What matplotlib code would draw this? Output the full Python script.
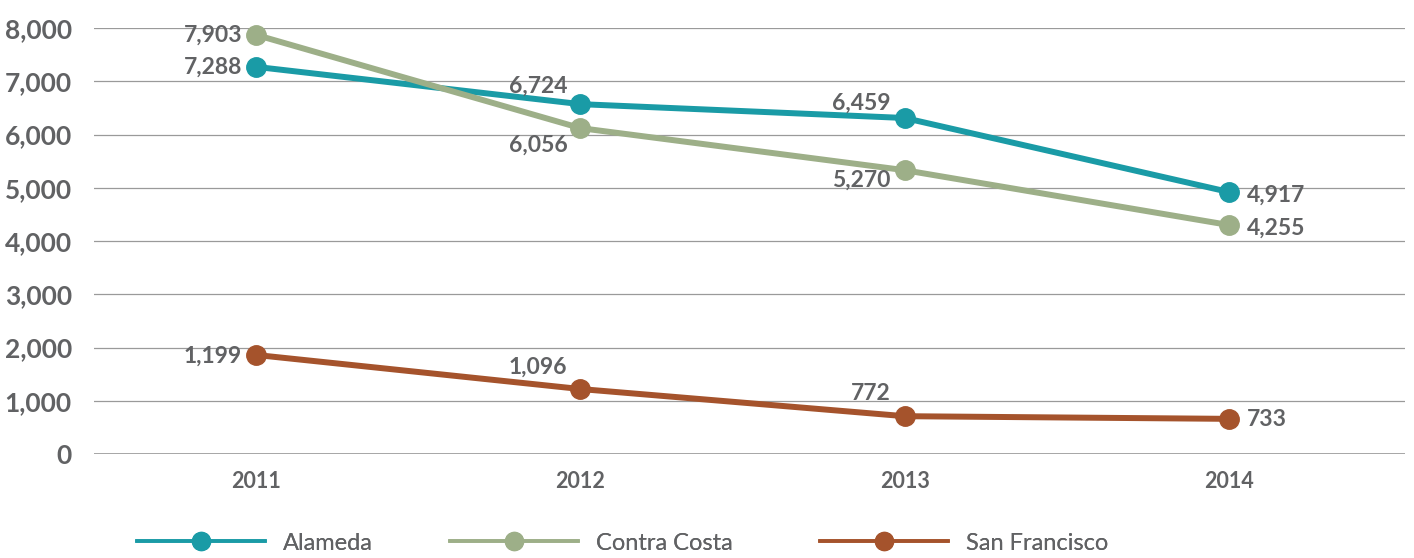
import numpy as np
import matplotlib
matplotlib.use('Agg')
import matplotlib.pyplot as plt
from matplotlib.lines import Line2D

years = ['2011', '2012', '2013', '2014']
counties = ['Alameda', 'Contra Costa', 'San Francisco']

# point heights as drawn in the picture
alameda = [7270, 6570, 6310, 4920]
contra_costa = [7870, 6120, 5330, 4300]
san_francisco = [1860, 1220, 710, 660]

# value labels as printed
alameda_lbl = ['7,288', '6,724', '6,459', '4,917']
contra_costa_lbl = ['7,903', '6,056', '5,270', '4,255']
san_francisco_lbl = ['1,199', '1,096', '772', '733']

colors = ['#1A9BA6', '#9DAF88', '#A5532C']
grey = '#616264'

plt.rcParams['font.family'] = ['Lato', 'DejaVu Sans']

fig = plt.figure(figsize=(14.14, 5.58), dpi=100)
ax = fig.add_axes([94 / 1414, 1 - 454 / 558, (1405 - 94) / 1414, (454 - 28) / 558])

x = np.arange(len(years))
series = [alameda, contra_costa, san_francisco]
labels = [alameda_lbl, contra_costa_lbl, san_francisco_lbl]

for vals, c, name in zip(series, colors, counties):
    ax.plot(x, vals, color=c, lw=4.3, marker='o', ms=14, label=name,
            clip_on=False, zorder=3, solid_capstyle='round')

# label offsets in pixels (dx, dy, ha)
offs = [
    [(-14, 0, 'right'), (-13, 18, 'right'), (-14, 15, 'right'), (18, -3, 'left')],
    [(-14, 0, 'right'), (-13, -17, 'right'), (-14, -10, 'right'), (18, -3, 'left')],
    [(-14, -1, 'right'), (-13, 22, 'right'), (-14, 23, 'right'), (18, -1, 'left')],
]
for vals, lbls, off in zip(series, labels, offs):
    for i, (v, t) in enumerate(zip(vals, lbls)):
        dx, dy, ha = off[i]
        ax.annotate(t, (x[i], v), xytext=(dx, dy), textcoords='offset pixels',
                    ha=ha, va='center', fontsize=16.5, fontweight='bold',
                    color=grey, zorder=4)

ax.set_xlim(-0.5, 3.543)
ax.set_ylim(0, 8000)
ax.set_yticks(range(0, 8001, 1000))
ax.set_yticklabels([f'{v:,}' for v in range(0, 8001, 1000)])
ax.set_xticks(x)
ax.set_xticklabels(years)
ax.grid(axis='y', color='#9A9A9A', lw=0.9)
ax.axhline(0, color='#9A9A9A', lw=1.2, zorder=1)
ax.set_axisbelow(True)
for s in ax.spines.values():
    s.set_visible(False)
ax.tick_params(axis='y', length=0, pad=16, labelsize=19, labelcolor=grey)
ax.tick_params(axis='x', length=0, pad=12, labelsize=15.5, labelcolor=grey)
for lab in ax.get_xticklabels() + ax.get_yticklabels():
    lab.set_fontweight('bold')

# one legend per county, placed along the bottom
starts = [137, 450, 820]
for c, name, sx in zip(colors, counties, starts):
    h = Line2D([], [], color=c, lw=2.6, marker='o', ms=13)
    leg = fig.legend([h], [name], loc='center left',
                     bbox_to_anchor=(sx / 1414, 1 - 543 / 558),
                     frameon=False, handlelength=5.4, handletextpad=0.8,
                     borderpad=0, borderaxespad=0, fontsize=17)
    for t in leg.get_texts():
        t.set_color(grey)
    fig.add_artist(leg)

fig.savefig('out.png', dpi=100)
